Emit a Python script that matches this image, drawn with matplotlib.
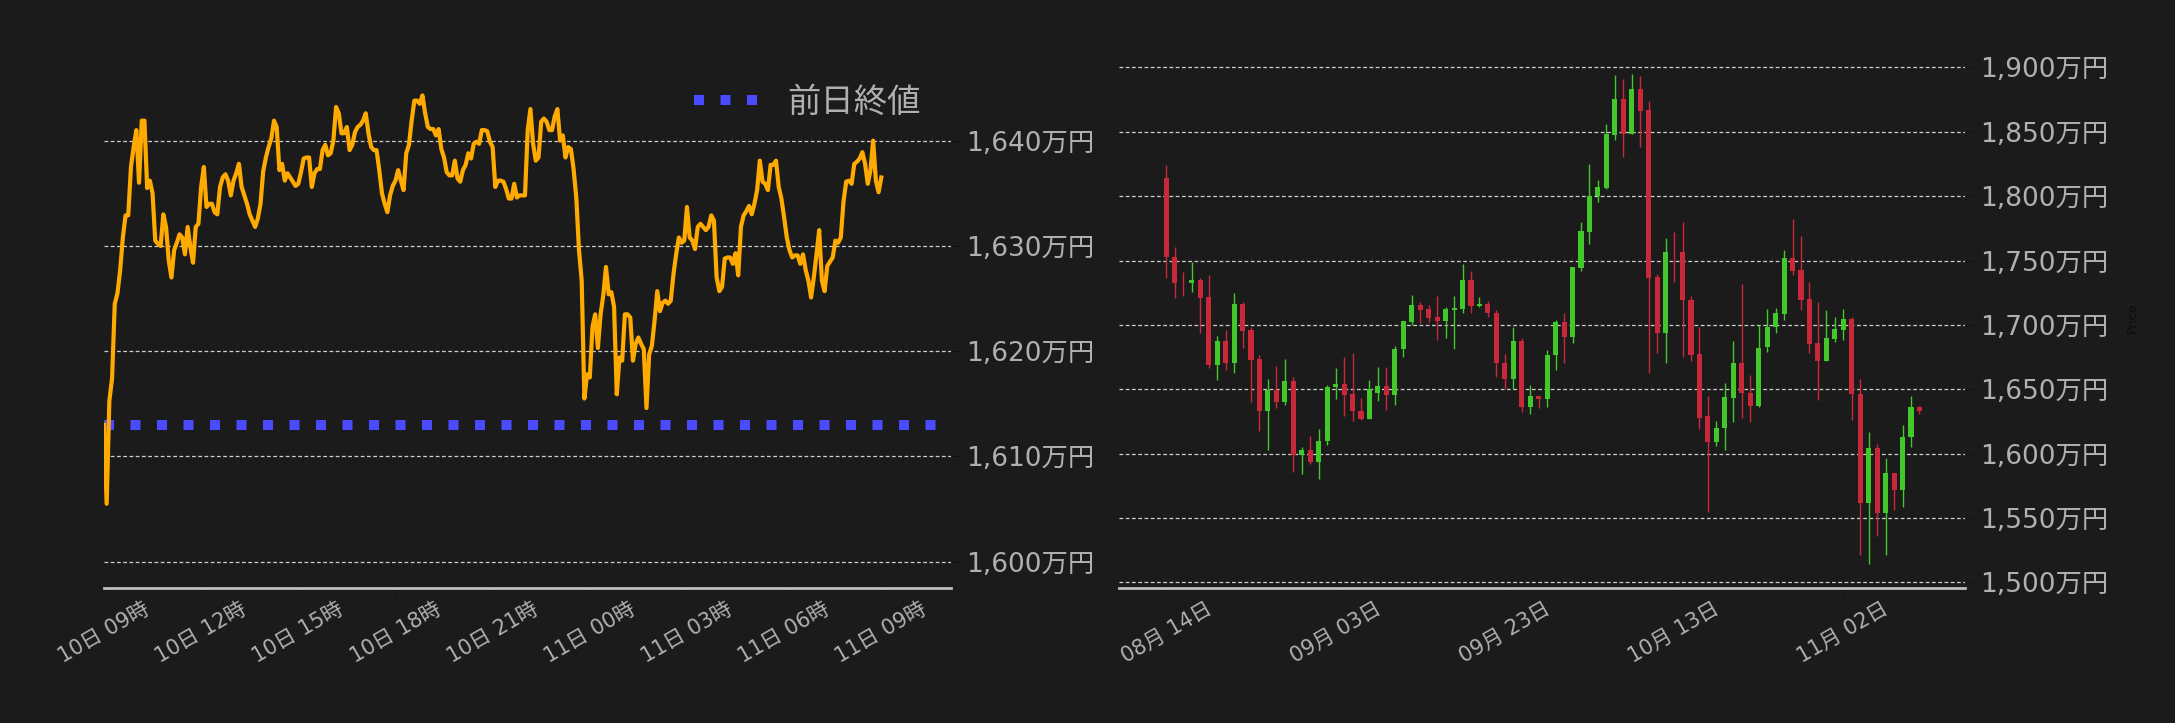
import numpy as np
import pandas as pd
import matplotlib
matplotlib.use('Agg')
import matplotlib.pyplot as plt
import matplotlib.dates as mdates
from matplotlib.ticker import FuncFormatter

plt.rcParams['font.family'] = ['DejaVu Sans', 'Noto Sans CJK JP']

# 24時間チャート (5分足の終値, 万円)
intraday_start = '2025-11-10 09:00'
intraday_price = [
    1613.0, 1605.5, 1615.3, 1617.4, 1624.5, 1625.5, 1627.7, 1630.8, 1632.9, 1632.9,
    1637.5, 1639.4, 1641.0, 1636.0, 1641.9, 1641.9, 1635.5, 1636.2, 1635.0, 1630.5,
    1630.2, 1630.0, 1633.0, 1631.8, 1628.6, 1627.0, 1629.6, 1630.3, 1631.1, 1630.8,
    1629.2, 1631.8, 1629.9, 1628.4, 1631.8, 1632.1, 1635.6, 1637.5, 1633.7, 1634.0,
    1634.0, 1633.2, 1633.0, 1635.6, 1636.5, 1636.8, 1636.2, 1634.8, 1636.2, 1636.9,
    1637.8, 1635.6, 1634.8, 1634.0, 1633.0, 1632.4, 1631.8, 1632.6, 1634.0, 1637.1,
    1638.4, 1639.4, 1640.2, 1641.9, 1641.3, 1637.2, 1637.8, 1636.2, 1636.9, 1636.5,
    1636.1, 1635.7, 1635.9, 1637.0, 1638.3, 1638.4, 1638.4, 1635.6, 1636.9, 1637.3,
    1637.3, 1639.1, 1639.6, 1638.6, 1638.8, 1640.0, 1643.2, 1642.6, 1640.7, 1640.7,
    1641.3, 1639.1, 1639.6, 1640.8, 1641.3, 1641.5, 1641.9, 1642.6, 1640.7, 1639.4,
    1639.1, 1639.1, 1637.2, 1635.0, 1634.0, 1633.2, 1634.8, 1635.7, 1636.2, 1637.2,
    1636.2, 1635.3, 1638.8, 1639.6, 1641.9, 1643.8, 1643.8, 1643.5, 1644.3, 1642.6,
    1641.3, 1641.1, 1641.1, 1640.5, 1641.1, 1639.2, 1638.4, 1637.0, 1636.7, 1636.7,
    1638.1, 1636.4, 1636.1, 1637.2, 1637.7, 1638.8, 1638.3, 1639.7, 1639.9, 1639.7,
    1641.0, 1641.0, 1640.9, 1639.9, 1639.4, 1635.6, 1636.2, 1636.2, 1636.1, 1635.4,
    1634.5, 1634.5, 1635.9, 1634.6, 1634.8, 1634.8, 1634.8, 1641.0, 1643.0, 1639.7,
    1638.1, 1638.4, 1641.8, 1642.1, 1641.8, 1641.0, 1641.0, 1642.3, 1643.0, 1640.0,
    1640.5, 1638.4, 1639.4, 1639.2, 1637.3, 1634.6, 1629.6, 1626.7, 1615.5, 1617.8,
    1617.5, 1622.3, 1623.5, 1620.3, 1623.5, 1625.3, 1628.0, 1625.4, 1625.6, 1624.2,
    1615.9, 1619.4, 1619.1, 1623.5, 1623.5, 1623.2, 1619.1, 1620.7, 1621.3, 1620.7,
    1620.2, 1614.6, 1619.7, 1620.5, 1622.9, 1625.7, 1623.8, 1624.6, 1624.8, 1624.5,
    1624.8, 1627.3, 1629.2, 1630.8, 1630.3, 1630.5, 1633.7, 1630.8, 1630.5, 1629.7,
    1631.8, 1632.1, 1631.8, 1631.5, 1631.8, 1632.9, 1632.4, 1627.0, 1625.7, 1626.1,
    1628.8, 1628.9, 1628.9, 1628.3, 1629.3, 1627.2, 1631.8, 1632.9, 1633.3, 1633.8,
    1633.0, 1634.0, 1635.3, 1638.1, 1636.1, 1635.9, 1635.3, 1637.7, 1637.7, 1638.1,
    1635.6, 1634.5, 1632.7, 1630.8, 1629.6, 1628.9, 1629.1, 1629.1, 1628.3, 1629.2,
    1627.7, 1626.7, 1625.1, 1627.0, 1629.2, 1631.5, 1626.7, 1625.7, 1628.1, 1628.5,
    1628.9, 1630.5, 1630.3, 1630.8, 1634.2, 1636.1, 1636.2, 1635.9, 1637.8, 1638.0,
    1638.3, 1638.9, 1637.8, 1635.9, 1637.2, 1640.0, 1636.2, 1635.1, 1636.5,
]
prev_close = 1613.0
intraday_yticks = [1600, 1610, 1620, 1630, 1640]

# 日足 (万円)
daily_start = '2025-08-14'
opens = [
    1813.9, 1752.5, 1732.6, 1732.4, 1735.0, 1721.8, 1669.2, 1687.6, 1670.8, 1716.3,
    1696.1, 1673.6, 1632.8, 1649.6, 1639.8, 1656.6, 1599.1, 1603.0, 1593.9, 1609.5,
    1651.9, 1654.2, 1646.5, 1633.3, 1627.3, 1646.9, 1652.7, 1645.7, 1681.1, 1702.6,
    1715.5, 1712.4, 1706.2, 1703.4, 1711.2, 1712.4, 1735.0, 1715.0, 1716.3, 1709.1,
    1670.3, 1657.9, 1687.6, 1636.6, 1644.9, 1642.3, 1676.7, 1702.4, 1690.9, 1744.5,
    1772.5, 1800.0, 1806.6, 1847.7, 1875.4, 1848.5, 1883.2, 1866.9, 1737.3, 1694.1,
    1756.7, 1756.7, 1719.4, 1677.5, 1629.4, 1608.7, 1619.6, 1643.6, 1670.5, 1647.5,
    1637.4, 1682.5, 1698.0, 1708.8, 1752.0, 1742.7, 1720.2, 1686.0, 1672.3, 1689.4,
    1696.4, 1704.7, 1646.7, 1561.6, 1604.6, 1553.9, 1584.9, 1571.7, 1612.6, 1636.1,
]
highs = [
    1824.2, 1760.3, 1740.9, 1748.7, 1736.8, 1738.6, 1691.7, 1695.9, 1724.6, 1717.6,
    1698.7, 1676.7, 1657.9, 1668.2, 1673.4, 1659.4, 1605.1, 1613.9, 1619.3, 1653.5,
    1666.4, 1675.2, 1678.3, 1643.1, 1657.3, 1667.4, 1667.4, 1683.7, 1703.1, 1723.3,
    1717.6, 1715.5, 1722.3, 1714.2, 1722.8, 1747.1, 1741.9, 1721.5, 1718.6, 1711.2,
    1677.3, 1698.2, 1689.7, 1653.5, 1645.0, 1680.6, 1703.9, 1709.1, 1745.0, 1780.0,
    1825.0, 1812.6, 1856.0, 1894.0, 1890.9, 1894.8, 1893.3, 1873.9, 1739.3, 1767.3,
    1771.9, 1779.7, 1722.8, 1698.2, 1644.9, 1625.0, 1654.7, 1687.6, 1731.8, 1661.2,
    1699.8, 1712.2, 1713.5, 1758.2, 1782.3, 1769.1, 1733.1, 1717.6, 1711.7, 1706.5,
    1712.2, 1706.5, 1657.9, 1616.7, 1607.4, 1596.5, 1584.9, 1622.4, 1644.9, 1637.2,
]
lows = [
    1736.8, 1720.7, 1722.8, 1725.4, 1694.1, 1666.4, 1657.1, 1664.6, 1662.5, 1682.4,
    1639.8, 1618.0, 1603.0, 1635.4, 1637.7, 1585.7, 1584.1, 1591.9, 1580.2, 1606.4,
    1642.3, 1628.9, 1625.0, 1625.8, 1627.3, 1641.3, 1634.0, 1637.7, 1675.4, 1700.0,
    1701.3, 1702.6, 1687.9, 1689.7, 1681.1, 1709.1, 1709.1, 1713.7, 1706.5, 1659.4,
    1650.3, 1650.3, 1632.0, 1630.7, 1635.4, 1636.6, 1665.1, 1670.8, 1686.3, 1742.2,
    1762.6, 1795.2, 1805.3, 1843.3, 1830.7, 1848.3, 1837.9, 1663.0, 1678.0, 1670.8,
    1733.1, 1675.4, 1671.6, 1619.3, 1554.4, 1605.6, 1603.0, 1624.5, 1628.1, 1624.5,
    1636.6, 1679.3, 1694.1, 1703.6, 1738.8, 1711.2, 1677.8, 1641.6, 1672.3, 1687.1,
    1687.9, 1626.0, 1521.5, 1514.5, 1536.3, 1521.5, 1556.4, 1558.5, 1605.3, 1630.7,
]
closes = [
    1752.5, 1732.4, 1732.2, 1735.0, 1721.2, 1669.2, 1687.6, 1670.8, 1716.3, 1695.6,
    1673.1, 1632.8, 1649.6, 1639.8, 1656.6, 1599.1, 1603.0, 1593.9, 1610.0, 1651.9,
    1654.2, 1645.2, 1632.8, 1627.3, 1650.3, 1652.7, 1645.7, 1681.4, 1703.1, 1715.5,
    1711.7, 1705.7, 1703.4, 1712.4, 1712.9, 1735.0, 1715.0, 1716.3, 1709.1, 1670.3,
    1657.9, 1687.6, 1636.6, 1644.9, 1642.3, 1676.7, 1702.4, 1690.9, 1745.0, 1773.0,
    1800.0, 1807.1, 1848.3, 1875.4, 1848.5, 1883.2, 1866.4, 1736.8, 1694.1, 1756.7,
    1756.3, 1719.7, 1677.0, 1628.1, 1608.7, 1620.1, 1644.1, 1670.5, 1647.5, 1637.4,
    1682.2, 1698.5, 1709.3, 1752.0, 1742.2, 1719.7, 1685.5, 1672.3, 1689.9, 1696.9,
    1704.7, 1646.2, 1561.6, 1604.6, 1553.9, 1584.9, 1571.7, 1613.1, 1636.1, 1632.8,
]
daily_ticks = ['2025-08-14', '2025-09-03', '2025-09-23', '2025-10-13', '2025-11-02']
daily_yticks = [1500, 1550, 1600, 1650, 1700, 1750, 1800, 1850, 1900]

bg = '#1b1b1b'
label_col = '#b0b0b0'
grid_kw = dict(color='#cfcfcf', linestyle=(0, (3, 2)), linewidth=0.9)
yen = FuncFormatter(lambda v, p: '{:,.0f}万円'.format(v))


def style_axes(ax):
    ax.set_facecolor(bg)
    for s in ['top', 'left', 'right']:
        ax.spines[s].set_visible(False)
    ax.spines['bottom'].set_color('#bdbdbd')
    ax.spines['bottom'].set_linewidth(2)
    ax.yaxis.tick_right()
    ax.yaxis.set_major_formatter(yen)
    ax.grid(axis='y', **grid_kw)
    ax.grid(axis='x', visible=False)
    ax.tick_params(axis='y', colors='#111111', labelcolor=label_col, labelsize=19,
                   length=6, pad=5)
    ax.tick_params(axis='x', colors='#111111', labelcolor=label_col, labelsize=15,
                   length=4, labelrotation=30)


fig = plt.figure(figsize=(21.75, 7.23), dpi=100, facecolor=bg)
ax1 = fig.add_axes([0.0478, 0.1867, 0.3894, 0.7469])
ax2 = fig.add_axes([0.5145, 0.1867, 0.3890, 0.7469])

# 左: 24時間
t = pd.date_range(intraday_start, periods=len(intraday_price), freq='5min')
t0 = t[0]
ax1.plot(t, intraday_price, color='#ffaa00', linewidth=3.0, zorder=3)
ax1.plot([t0, t0 + pd.Timedelta(hours=25.8)], [prev_close, prev_close],
         color='#4a4aff', linestyle=':', linewidth=7.2, dash_capstyle='butt',
         label='前日終値', zorder=2)
ax1.set_xlim(t0, t0 + pd.Timedelta(hours=26.15))
ax1.set_ylim(1597.5, 1648.8)
ax1.set_yticks(intraday_yticks)
ax1.set_xticks(pd.date_range(intraday_start, periods=9, freq='3h'))
ax1.xaxis.set_major_formatter(mdates.DateFormatter('%d日 %H時'))
style_axes(ax1)
ax1.legend(loc='upper right', bbox_to_anchor=(1.0, 0.985), frameon=False,
           fontsize=24, labelcolor=label_col)

# 右: 日足
d = pd.date_range(daily_start, periods=len(opens), freq='D')
x = mdates.date2num(d)
o = np.array(opens)
c = np.array(closes)
up = c >= o
cols = np.where(up, '#43c82b', '#c9283a')
ax2.vlines(x, lows, highs, colors=cols, linewidth=1.0, zorder=2)
body = np.maximum(np.abs(c - o), 0.6)
ax2.bar(x, body, bottom=np.minimum(o, c), width=0.6, color=cols, zorder=3)
ax2.set_xlim(x[0] - 5.6, x[0] + 94.4)
ax2.set_ylim(1495.7, 1915)
ax2.set_yticks(daily_yticks)
ax2.set_xticks(mdates.date2num(pd.to_datetime(daily_ticks)))
ax2.xaxis.set_major_formatter(mdates.DateFormatter('%m月 %d日'))
style_axes(ax2)
ax2.yaxis.set_label_position('right')
ax2.set_ylabel('Price', color='#0c0c0c', fontsize=9, labelpad=12)

fig.savefig('out.png', dpi=100, facecolor=bg)
